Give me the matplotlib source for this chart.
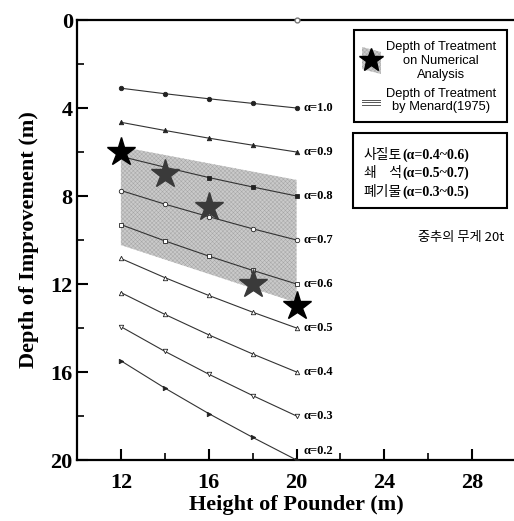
import matplotlib
matplotlib.use('Agg')
import matplotlib.pyplot as plt
from matplotlib.patches import Polygon, Rectangle
from matplotlib.lines import Line2D

W, H = 514, 521

# высота падения груза (м)
heights = [12, 14, 16, 18, 20]

# линии глубины, сверху вниз
lines = [
    [3.10, 3.35, 3.58, 3.79, 4.00],
    [4.65, 5.02, 5.37, 5.69, 6.00],
    [6.20, 6.69, 7.16, 7.59, 8.00],
    [7.75, 8.37, 8.94, 9.49, 10.00],
    [9.30, 10.04, 10.73, 11.38, 12.00],
    [10.84, 11.71, 12.52, 13.28, 14.00],
    [12.39, 13.38, 14.31, 15.18, 16.00],
    [13.94, 15.06, 16.10, 17.07, 18.00],
    [15.49, 16.73, 17.89, 18.97, 20.00],
]
alpha_labels = ['α=1.0', 'α=0.9', 'α=0.8', 'α=0.7', 'α=0.6',
                'α=0.5', 'α=0.4', 'α=0.3', 'α=0.2']
markers = ['o', '^', 's', 'o', 's', '^', '^', 'v', '>']
filled = [True, True, True, False, False, False, False, False, True]

# численный анализ (звёзды)
star_h = [12, 14, 16, 18, 20]
star_d = [6.0, 7.0, 8.5, 12.0, 13.0]
star_col = ['black', '#3a3a3a', '#3a3a3a', '#3a3a3a', 'black']

# область Menard (1975)
band_h = [12, 20, 20, 12]
band_d = [5.76, 7.27, 12.85, 10.23]

plt.rcParams['hatch.linewidth'] = 0.35

fig = plt.figure(figsize=(W / 100, H / 100), dpi=100)
ax = fig.add_axes([77 / W, 61 / H, 438 / W, 440 / H])

serif = 'Liberation Serif'
sans = 'Liberation Sans'
kfont = ['Noto Sans CJK KR', 'DejaVu Sans']

# заштрихованная область
ax.add_patch(Polygon(list(zip(band_h, band_d)), closed=True,
                     facecolor='#cacaca', edgecolor='#a6a6a6',
                     hatch='xxxxxxxx', linewidth=0, zorder=1))

for vals, lab, m, f in zip(lines, alpha_labels, markers, filled):
    ax.plot(heights, vals, color='#333333', linewidth=0.8,
            marker=m, markersize=3.2,
            markerfacecolor='#222222' if f else 'white',
            markeredgecolor='#222222', markeredgewidth=0.6, zorder=3)
    ax.text(20.3, min(vals[-1], 19.6), lab, fontsize=9, fontweight='bold',
            family=serif, va='center', ha='left', zorder=4)

# маленький кружок на верхней оси
ax.plot([20], [0], marker='o', markersize=3.5, markerfacecolor='white',
        markeredgecolor='#777777', clip_on=False, zorder=5)

for h, d, c in zip(star_h, star_d, star_col):
    ax.plot(h, d, marker='*', markersize=21, color=c, zorder=4)

ax.set_xlim(10, 29.95)
ax.set_ylim(20, 0)
ax.set_xticks([12, 16, 20, 24, 28])
ax.set_xticks([14, 18, 22, 26], minor=True)
ax.set_yticks([0, 4, 8, 12, 16, 20])
ax.set_yticks([2, 6, 10, 14, 18], minor=True)
ax.tick_params(which='major', direction='in', length=8, width=1.5,
               labelsize=16)
ax.tick_params(axis='x', which='major', pad=9)
ax.tick_params(axis='y', which='major', pad=3)
ax.tick_params(which='minor', direction='in', length=5, width=1.2)
for t in ax.get_xticklabels() + ax.get_yticklabels():
    t.set_family(serif)
    t.set_fontweight('bold')
ax.spines['right'].set_visible(False)
for s in ['left', 'top', 'bottom']:
    ax.spines[s].set_linewidth(1.6)

ax.set_xlabel('Height of Pounder (m)', fontsize=16, fontweight='bold',
              family=serif, labelpad=2)
ax.set_ylabel('Depth of Improvement (m)', fontsize=16, fontweight='bold',
              family=serif, labelpad=8)


def fx(x):
    return x / W


def fy(y):
    return 1 - y / H


# легенда 1
fig.add_artist(Rectangle((fx(354), fy(122)), fx(507) - fx(354),
                         fy(30) - fy(122), fill=False, linewidth=1.5,
                         edgecolor='black', transform=fig.transFigure))
fig.add_artist(Polygon([(fx(362), fy(47)), (fx(381), fy(52)),
                        (fx(381), fy(74)), (fx(362), fy(69))], closed=True,
                       facecolor='#cacaca', edgecolor='#a6a6a6',
                       hatch='xxxxxxxx', linewidth=0,
                       transform=fig.transFigure))
fig.add_artist(Line2D([fx(371)], [fy(60)], marker='*', markersize=18,
                      color='black', transform=fig.transFigure))
for yy in [99.5, 102, 104.5]:
    fig.add_artist(Line2D([fx(362), fx(380)], [fy(yy), fy(yy)],
                          color='#555555', linewidth=0.7,
                          transform=fig.transFigure))
fig.text(fx(441), fy(61), 'Depth of Treatment\non Numerical\nAnalysis',
         ha='center', va='center', fontsize=9.3, family=sans, linespacing=1.2)
fig.text(fx(441), fy(100.5), 'Depth of Treatment\nby Menard(1975)',
         ha='center', va='center', fontsize=9.3, family=sans, linespacing=1.2)

# легенда 2
fig.add_artist(Rectangle((fx(353), fy(208)), fx(507) - fx(353),
                         fy(133) - fy(208), fill=False, linewidth=1.5,
                         edgecolor='black', transform=fig.transFigure))
kor = ['사질토', '쇄    석', '폐기물']
rng = ['(α=0.4~0.6)', '(α=0.5~0.7)', '(α=0.3~0.5)']
for yy, k, r in zip([155, 173, 192], kor, rng):
    fig.text(fx(402), fy(yy), k, ha='right', va='center', fontsize=10,
             family=kfont)
    fig.text(fx(402), fy(yy), r, ha='left', va='center', fontsize=10,
             family=serif, fontweight='bold')

fig.text(fx(504), fy(237), '중추의 무게 20t', ha='right', va='center',
         fontsize=9.5, family=kfont)

fig.savefig('out.png', dpi=100)
